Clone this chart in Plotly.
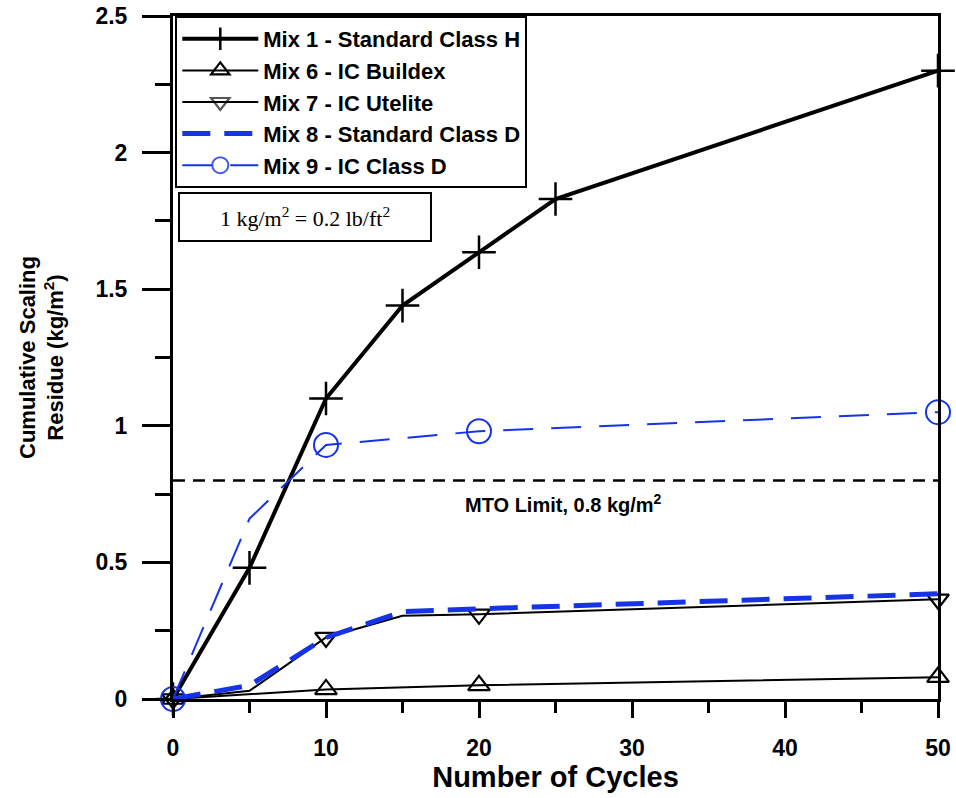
import plotly.graph_objects as go

# ---- data ----
mix1_x = [0, 5, 10, 15, 20, 25, 50]
mix1_y = [0, 0.48, 1.10, 1.44, 1.635, 1.83, 2.30]

mix6_x = [0, 10, 20, 50]
mix6_y = [0, 0.035, 0.05, 0.08]

mix7_x = [0, 5, 10, 15, 20, 50]
mix7_y = [0, 0.03, 0.225, 0.305, 0.31, 0.365]

mix8_x = [0, 5, 10, 15, 20, 50]
mix8_y = [0, 0.05, 0.225, 0.32, 0.33, 0.385]

mix9_x = [0, 5, 10, 20, 50]
mix9_y = [0, 0.66, 0.93, 0.98, 1.05]

mto_x = [0, 50]
mto_y = [0.8, 0.8]

names = ["Mix 1 - Standard Class H", "Mix 6 - IC Buildex", "Mix 7 - IC Utelite",
         "Mix 8 - Standard Class D", "Mix 9 - IC Class D"]

x_ticks = [0, 10, 20, 30, 40, 50]
y_ticks = [0, 0.5, 1, 1.5, 2, 2.5]
y_tick_text = ["0", "0.5", "1", "1.5", "2", "2.5"]

BLUE = "#1633e6"
FONT = "Liberation Sans, Arial, sans-serif"


def marker_opacity(xs):
    # markers are only drawn at every 10 cycles
    return [1 if x % 10 == 0 else 0 for x in xs]


fig = go.Figure()

fig.add_trace(go.Scatter(
    x=mto_x, y=mto_y, mode="lines", showlegend=False,
    line=dict(color="black", width=2.5, dash="12px,8px"), hoverinfo="skip"))

fig.add_trace(go.Scatter(
    x=mix1_x, y=mix1_y, name=names[0], mode="lines+markers",
    line=dict(color="black", width=4),
    marker=dict(symbol="cross-thin", size=24, color="black",
                line=dict(color="black", width=2.5)),
    cliponaxis=False))

fig.add_trace(go.Scatter(
    x=mix6_x, y=mix6_y, name=names[1], mode="lines+markers",
    line=dict(color="black", width=2),
    marker=dict(symbol="triangle-up-open", size=19, color="black",
                line=dict(color="black", width=2.2)),
    cliponaxis=False))

fig.add_trace(go.Scatter(
    x=mix7_x, y=mix7_y, name=names[2], mode="lines+markers",
    line=dict(color="black", width=2),
    marker=dict(symbol="triangle-down-open", size=19, opacity=marker_opacity(mix7_x),
                color="black", line=dict(color="black", width=2.2)),
    cliponaxis=False))

fig.add_trace(go.Scatter(
    x=mix8_x, y=mix8_y, name=names[3], mode="lines",
    line=dict(color=BLUE, width=5, dash="28px,14px"),
    cliponaxis=False))

fig.add_trace(go.Scatter(
    x=mix9_x, y=mix9_y, name=names[4], mode="lines+markers",
    line=dict(color=BLUE, width=2, dash="30px,18px"),
    marker=dict(symbol="circle-open", size=24, opacity=marker_opacity(mix9_x),
                color=BLUE, line=dict(color=BLUE, width=2)),
    cliponaxis=False))

fig.add_annotation(
    x=25.5, y=0.715, xref="x", yref="y", showarrow=False,
    xanchor="center", yanchor="middle",
    text="<b>MTO Limit, 0.8 kg/m<sup>2</sup></b>",
    font=dict(family=FONT, size=20, color="black"))

fig.add_annotation(
    x=0.1725, y=0.705, xref="paper", yref="paper", showarrow=False,
    xanchor="center", yanchor="middle",
    text="1 kg/m<sup>2</sup> = 0.2 lb/ft<sup>2</sup>",
    font=dict(family="Liberation Serif, Times New Roman, serif", size=22, color="black"),
    bgcolor="white", bordercolor="black", borderwidth=2, borderpad=2,
    width=246, height=42)

fig.update_layout(
    width=956, height=798,
    margin=dict(l=173, r=18, t=16, b=99, autoexpand=False),
    paper_bgcolor="white", plot_bgcolor="white",
    font=dict(family=FONT, color="black"),
    showlegend=True,
    legend=dict(
        x=0.003, y=1.0, xanchor="left", yanchor="top",
        bgcolor="white", bordercolor="black", borderwidth=2,
        font=dict(family=FONT, size=22, color="black", weight="bold"),
        tracegroupgap=0, itemwidth=76),
    xaxis=dict(
        range=[0, 50], showgrid=False, zeroline=False, automargin=False,
        showline=True, linecolor="black", linewidth=2.5, mirror=True,
        ticks="outside", ticklen=16, tickwidth=2.5, tickcolor="black",
        tickvals=x_ticks, ticklabelstandoff=11,
        tickfont=dict(family=FONT, size=23, weight="bold"),
        minor=dict(ticks="outside", dtick=5, ticklen=11, tickwidth=2.5,
                   tickcolor="black", showgrid=False),
        title=dict(text="<b>Number of Cycles</b>", standoff=4,
                   font=dict(family=FONT, size=29))),
    yaxis=dict(
        range=[0, 2.5], showgrid=False, zeroline=False, automargin=False,
        showline=True, linecolor="black", linewidth=3, mirror=True,
        ticks="outside", ticklen=28, tickwidth=2.5, tickcolor="black",
        tickvals=y_ticks, ticktext=y_tick_text, ticklabelstandoff=10,
        tickfont=dict(family=FONT, size=23, weight="bold"),
        minor=dict(ticks="outside", dtick=0.25, ticklen=15, tickwidth=2.5,
                   tickcolor="black", showgrid=False),
        title=dict(text="<b>Cumulative Scaling<br>Residue (kg/m<sup>2</sup>)</b>",
                   standoff=26, font=dict(family=FONT, size=22))),
)

fig.write_html("out.html")
